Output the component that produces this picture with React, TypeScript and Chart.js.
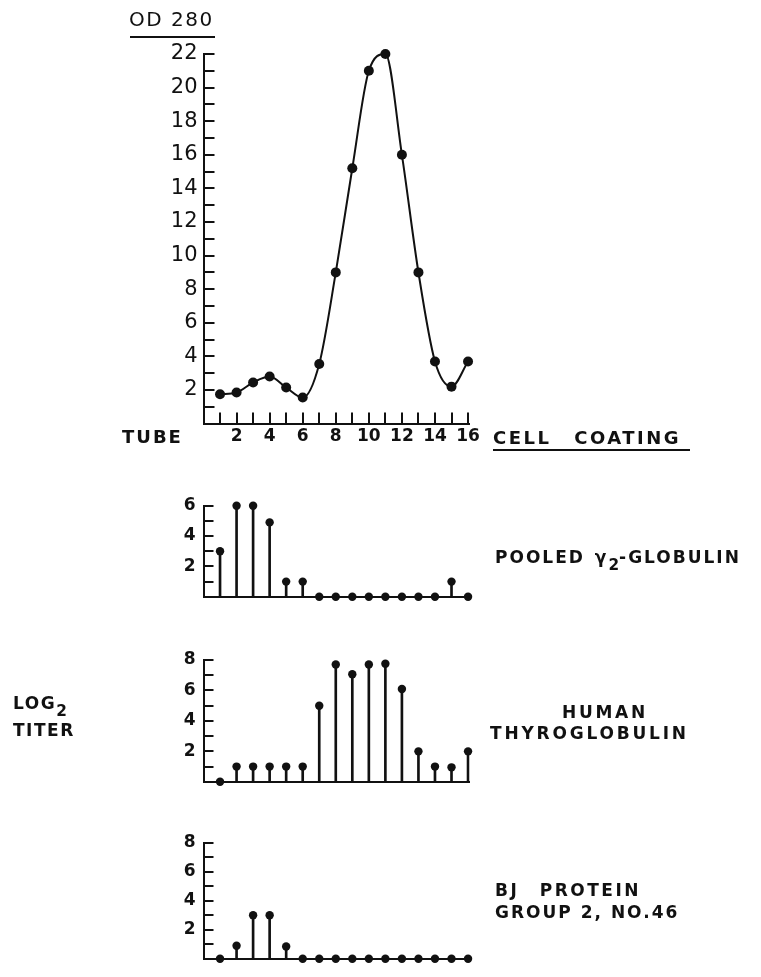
import React, { useEffect, useRef } from "react";
import { Chart, registerables } from "chart.js";

Chart.register(...registerables);

// ---------- data ----------
const tubes = [1, 2, 3, 4, 5, 6, 7, 8, 9, 10, 11, 12, 13, 14, 15, 16];
const od280 = [1.75, 1.85, 2.45, 2.8, 2.15, 1.55, 3.55, 9.0, 15.2, 21.0, 22.0, 16.0, 9.0, 3.7, 2.2, 3.7];
const odTickLabels = [2, 4, 6, 8, 10, 12, 14, 16, 18, 20, 22];
const tubeTickLabels = [2, 4, 6, 8, 10, 12, 14, 16];

const pooledGamma = [3, 6, 6, 4.9, 1, 1, 0, 0, 0, 0, 0, 0, 0, 0, 1, 0];
const thyroglobulin = [0, 1, 1, 1, 1, 1, 5, 7.7, 7.06, 7.7, 7.75, 6.1, 2, 1, 0.95, 2];
const bjProtein = [0, 0.9, 3, 3, 0.85, 0, 0, 0, 0, 0, 0, 0, 0, 0, 0, 0];
const titerTicks6 = [2, 4, 6];
const titerTicks8 = [2, 4, 6, 8];

const FONT = "'DejaVu Sans', 'Noto Sans', sans-serif";
const INK = "#111";
const W = 761;

// ---------- plugin: inward tick marks ----------
const inwardTicks = {
  id: "inwardTicks",
  afterDraw(chart: any, _args: any, opts: any) {
    const { ctx, chartArea, scales } = chart;
    ctx.save();
    ctx.strokeStyle = INK;
    ctx.lineWidth = 2;
    const ys = scales.y;
    ys.ticks.forEach((t: any) => {
      if (!Number.isInteger(t.value) || t.value <= 0) return;
      const py = Math.round(ys.getPixelForValue(t.value));
      ctx.beginPath();
      ctx.moveTo(chartArea.left, py);
      ctx.lineTo(chartArea.left + (opts.len || 10), py);
      ctx.stroke();
    });
    if (opts.xTicks) {
      const xs = scales.x;
      xs.ticks.forEach((t: any) => {
        if (!Number.isInteger(t.value) || t.value <= 0) return;
        const px = Math.round(xs.getPixelForValue(t.value));
        ctx.beginPath();
        ctx.moveTo(px, chartArea.bottom);
        ctx.lineTo(px, chartArea.bottom - (opts.len || 10));
        ctx.stroke();
      });
    }
    ctx.restore();
  },
};

type Area = { left: number; right: number; top: number; bottom: number };

function buildLayout(canvasTop: number, canvasH: number, area: Area, yW: number, xH: number) {
  return {
    padding: {
      left: area.left - yW,
      right: W - area.right,
      top: area.top - canvasTop,
      bottom: canvasTop + canvasH - area.bottom - xH,
    },
  };
}

const tubeTicks = (s: any) => {
  s.ticks = [{ value: 0 }, ...tubes.map((v) => ({ value: v }))];
};

// ---------- top chart ----------
function TopChart() {
  const ref = useRef<HTMLCanvasElement>(null);
  useEffect(() => {
    const canvasTop = 0;
    const canvasH = 470;
    const area = { left: 203.5, right: 469.7, top: 54, bottom: 423.6 };
    const chart = new Chart(ref.current!, {
      type: "line",
      data: {
        datasets: [
          {
            data: tubes.map((t, i) => ({ x: t, y: od280[i] })),
            borderColor: INK,
            borderWidth: 2,
            backgroundColor: INK,
            pointRadius: 5,
            pointBorderWidth: 0,
            pointBackgroundColor: INK,
            cubicInterpolationMode: "monotone",
            clip: false as any,
          },
        ],
      },
      options: {
        responsive: false,
        animation: false,
        devicePixelRatio: 1,
        events: [],
        layout: buildLayout(canvasTop, canvasH, area, 60, 30),
        plugins: { legend: { display: false }, tooltip: { enabled: false }, inwardTicks: { xTicks: true, len: 11 } } as any,
        scales: {
          x: {
            type: "linear",
            min: 0,
            max: 16.1,
            offset: false,
            afterBuildTicks: tubeTicks,
            afterFit: (s: any) => {
              s.height = 30;
            },
            grid: { display: false, drawTicks: false },
            border: { display: true, color: INK, width: 2 },
            ticks: {
              autoSkip: false,
              maxRotation: 0,
              padding: 3,
              color: INK,
              font: { family: FONT, size: 17, weight: "bold" },
              callback: (v: any) => (tubeTickLabels.includes(v) ? String(v) : ""),
            },
          },
          y: {
            type: "linear",
            min: 0,
            max: 22,
            afterFit: (s: any) => {
              s.width = 60;
            },
            grid: { display: false, drawTicks: false },
            border: { display: true, color: INK, width: 2 },
            ticks: {
              stepSize: 1,
              autoSkip: false,
              padding: 6,
              color: INK,
              font: { family: FONT, size: 21 },
              callback: (v: any) => (odTickLabels.includes(v) ? String(v) : ""),
            },
          },
        },
      },
      plugins: [inwardTicks],
    } as any);
    return () => chart.destroy();
  }, []);
  return (
    <canvas
      ref={ref}
      width={W}
      height={470}
      style={{ position: "absolute", left: 0, top: 0, width: W, height: 470 }}
    />
  );
}

// ---------- titer panels ----------
function TiterPanel(props: { values: number[]; max: number; labels: number[]; canvasTop: number; canvasH: number; area: Area }) {
  const ref = useRef<HTMLCanvasElement>(null);
  const { values, max, labels, canvasTop, canvasH, area } = props;
  useEffect(() => {
    const pts = tubes.map((t, i) => ({ x: t, y: values[i] }));
    const chart = new Chart(ref.current!, {
      type: "bar",
      data: {
        datasets: [
          {
            type: "scatter",
            data: pts,
            pointRadius: 4.2,
            pointBorderWidth: 0,
            pointBackgroundColor: INK,
            showLine: false,
            clip: false as any,
            order: 0,
          },
          {
            type: "bar",
            data: pts,
            backgroundColor: INK,
            borderWidth: 0,
            barThickness: 2,
            order: 1,
          },
        ],
      },
      options: {
        responsive: false,
        animation: false,
        devicePixelRatio: 1,
        events: [],
        layout: buildLayout(canvasTop, canvasH, area, 60, 0),
        plugins: { legend: { display: false }, tooltip: { enabled: false }, inwardTicks: { xTicks: false, len: 10 } } as any,
        scales: {
          x: {
            type: "linear",
            min: 0,
            max: 16.1,
            offset: false,
            afterBuildTicks: tubeTicks,
            afterFit: (s: any) => {
              s.height = 0;
            },
            grid: { display: false, drawTicks: false },
            border: { display: true, color: INK, width: 2 },
            ticks: { display: false },
          },
          y: {
            type: "linear",
            min: 0,
            max: max,
            afterFit: (s: any) => {
              s.width = 60;
            },
            grid: { display: false, drawTicks: false },
            border: { display: true, color: INK, width: 2 },
            ticks: {
              stepSize: 1,
              autoSkip: false,
              padding: 8,
              color: INK,
              font: { family: FONT, size: 17, weight: "bold" },
              callback: (v: any) => (labels.includes(v) ? String(v) : ""),
            },
          },
        },
      },
      plugins: [inwardTicks],
    } as any);
    return () => chart.destroy();
  }, []);
  return (
    <canvas
      ref={ref}
      width={W}
      height={canvasH}
      style={{ position: "absolute", left: 0, top: canvasTop, width: W, height: canvasH }}
    />
  );
}

// ---------- text helper ----------
function Label(props: { x: number; cy: number; size: number; ls?: number; ws?: number; bold?: boolean; children: any }) {
  const { x, cy, size, ls = 2, ws = 0, bold = true, children } = props;
  return (
    <div
      style={{
        position: "absolute",
        left: x,
        top: cy - 0.48 * size,
        fontFamily: FONT,
        fontSize: size,
        fontWeight: bold ? "bold" : "normal",
        lineHeight: 1,
        letterSpacing: ls,
        wordSpacing: ws,
        color: INK,
        whiteSpace: "nowrap",
      }}
    >
      {children}
    </div>
  );
}

function Rule(props: { x: number; y: number; w: number }) {
  return <div style={{ position: "absolute", left: props.x, top: props.y, width: props.w, height: 2, background: INK }} />;
}

const subStyle: any = { fontSize: "0.9em", position: "relative", top: "0.45em", letterSpacing: 0 };

export default function App() {
  return (
    <div style={{ position: "absolute", left: 0, top: 0, width: W, height: 977, background: "#fff", overflow: "hidden" }}>
      <TopChart />
      <TiterPanel
        values={pooledGamma}
        max={6}
        labels={titerTicks6}
        canvasTop={480}
        canvasH={135}
        area={{ left: 203.5, right: 469.7, top: 505.7, bottom: 605 }}
      />
      <TiterPanel
        values={thyroglobulin}
        max={8}
        labels={titerTicks8}
        canvasTop={635}
        canvasH={165}
        area={{ left: 203.5, right: 469.7, top: 660, bottom: 790 }}
      />
      <TiterPanel
        values={bjProtein}
        max={8}
        labels={titerTicks8}
        canvasTop={817}
        canvasH={160}
        area={{ left: 203.5, right: 469.7, top: 842.7, bottom: 973 }}
      />

      <Label x={129} cy={19} size={20} ls={1.5} bold={false}>OD 280</Label>
      <Rule x={130} y={36} w={85} />

      <Label x={122} cy={437} size={18} ls={2}>TUBE</Label>
      <Label x={493} cy={438} size={18} ls={2.5} ws={14}>CELL COATING</Label>
      <Rule x={493} y={449} w={197} />

      <Label x={495} cy={557} size={17} ls={2} ws={2}>
        POOLED γ<span style={subStyle}>2</span>-GLOBULIN
      </Label>

      <Label x={13} cy={703} size={17} ls={1.5}>
        LOG<span style={subStyle}>2</span>
      </Label>
      <Label x={13} cy={730} size={17} ls={1.5}>TITER</Label>

      <Label x={562} cy={712} size={17} ls={2.7}>HUMAN</Label>
      <Label x={490} cy={733} size={17} ls={2.8}>THYROGLOBULIN</Label>

      <Label x={495} cy={890} size={17} ls={2.5} ws={12}>BJ PROTEIN</Label>
      <Label x={495} cy={912} size={17} ls={2}>GROUP 2, NO.46</Label>
    </div>
  );
}
